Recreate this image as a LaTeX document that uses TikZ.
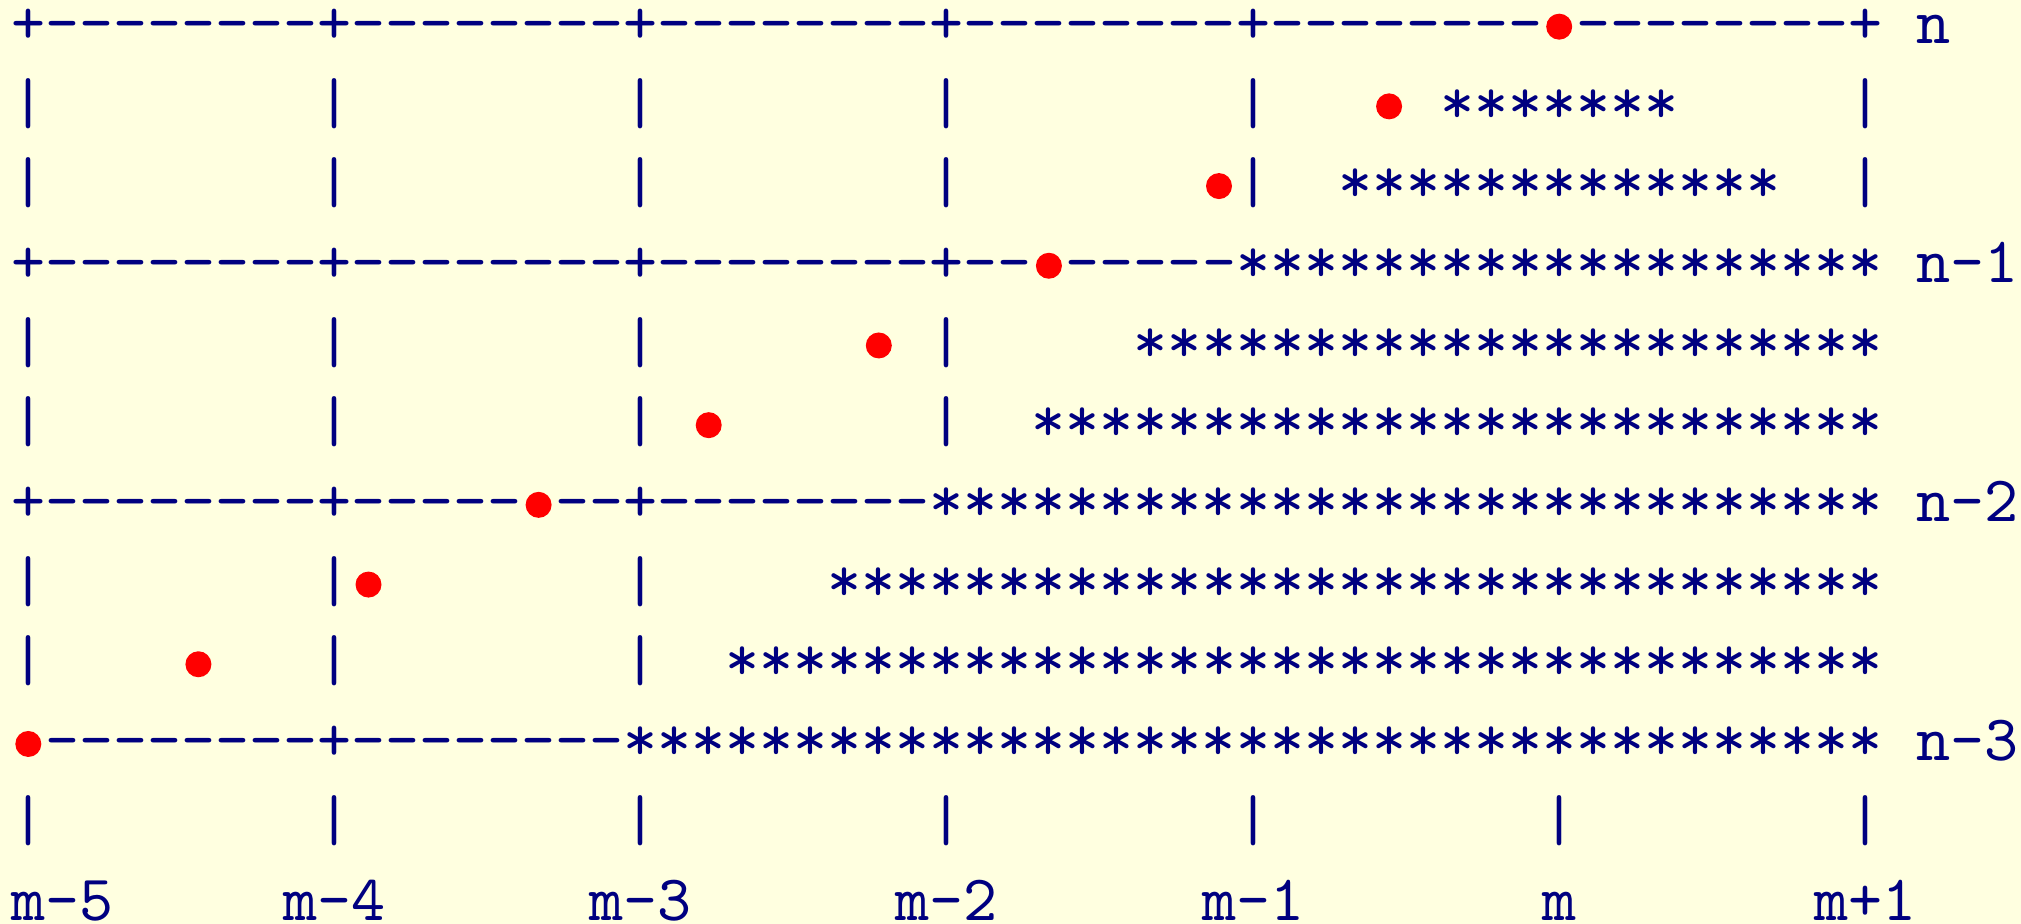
\documentclass[tikz,border=0pt]{standalone}
\usepackage{xcolor}
\definecolor{bgyellow}{RGB}{255,255,224}
\definecolor{ink}{RGB}{0,0,128}
\definecolor{dotred}{RGB}{255,0,0}
\newcommand\hyE{-{}-{}-{}-{}-{}-{}-{}-{}}
\newcommand\plusE{+\hyE}
\newcommand\stars[1]{\foreach\k in {1,...,#1}{*}}
\tikzset{
  txt/.style={anchor=base west, inner sep=0pt, outer sep=0pt, text=ink,
    font=\fontsize{9.72pt}{12pt}\selectfont\ttfamily},
  reddot/.style={circle, fill=dotred, draw=none, inner sep=0pt, minimum size=3.9pt}
}
\begin{document}
\begin{tikzpicture}
\fill[bgyellow] (0pt,0pt) rectangle (303.15pt,-138.6pt);
\useasboundingbox (0pt,0pt) rectangle (303.15pt,-138.6pt);
\begin{scope}[shift={(1.695pt,-6.5pt)}, x=5.103pt, y=-11.955pt]
% row 0
\node[txt] (r0a) at (0,0) {\plusE\plusE\plusE\plusE\plusE};
\node[txt] (r0b) at (46,0) {\hyE+};
\node[txt] (ln) at (56,0) {n};
% row 1
\foreach \c in {0,9,18,27,36,54} \node[txt] (r1b\c) at (\c,1) {|};
\node[txt] (r1s) at (42,1) {\stars{7}};
% row 2
\foreach \c in {0,9,18,27,36,54} \node[txt] (r2b\c) at (\c,2) {|};
\node[txt] (r2s) at (39,2) {\stars{13}};
% row 3
\node[txt] (r3a) at (0,3) {\plusE\plusE\plusE+-{}-{}};
\node[txt] (r3b) at (31,3) {-{}-{}-{}-{}-{}\stars{19}};
\node[txt] (ln1) at (56,3) {n-1};
% row 4
\foreach \c in {0,9,18,27} \node[txt] (r4b\c) at (\c,4) {|};
\node[txt] (r4s) at (33,4) {\stars{22}};
% row 5
\foreach \c in {0,9,18,27} \node[txt] (r5b\c) at (\c,5) {|};
\node[txt] (r5s) at (30,5) {\stars{25}};
% row 6
\node[txt] (r6a) at (0,6) {\plusE+-{}-{}-{}-{}-{}};
\node[txt] (r6b) at (16,6) {-{}-{}\plusE\stars{28}};
\node[txt] (ln2) at (56,6) {n-2};
% row 7
\foreach \c in {0,9,18} \node[txt] (r7b\c) at (\c,7) {|};
\node[txt] (r7s) at (24,7) {\stars{31}};
% row 8
\foreach \c in {0,9,18} \node[txt] (r8b\c) at (\c,8) {|};
\node[txt] (r8s) at (21,8) {\stars{34}};
% row 9
\node[txt] (r9a) at (1,9) {\hyE\plusE\stars{37}};
\node[txt] (ln3) at (56,9) {n-3};
% row 10
\foreach \c in {0,9,18,27,36,45,54} \node[txt] (r10b\c) at (\c,10) {|};
% row 11
\node[txt] (lm5) at (0,11) {m-5};
\node[txt] (lm4) at (8,11) {m-4};
\node[txt] (lm3) at (17,11) {m-3};
\node[txt] (lm2) at (26,11) {m-2};
\node[txt] (lm1) at (35,11) {m-1};
\node[txt] (lm0) at (45,11) {m};
\node[txt] (lmp) at (53,11) {m+1};
% dots
\foreach \r in {0,...,9} {
  \pgfmathtruncatemacro\cc{45-5*\r}
  \node[reddot] (d\r) at (\cc+0.5,\r-0.209) {};
}
\end{scope}
\end{tikzpicture}
\end{document}
